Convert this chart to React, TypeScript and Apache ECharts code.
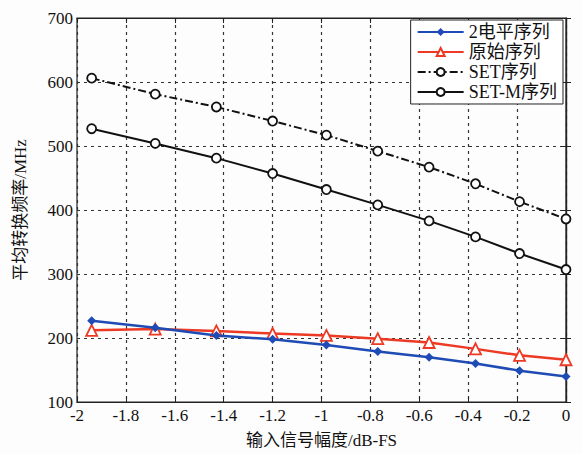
import React, { useEffect, useRef } from "react";
import * as echarts from "echarts";

const xValues = [-1.94, -1.68, -1.43, -1.2, -0.98, -0.77, -0.56, -0.37, -0.19, 0];
const twoLevel = [227, 216, 204, 198, 189, 179, 170, 160, 149, 140];
const original = [212, 214, 211, 207, 204, 199, 193, 183, 173, 166];
const setSeq = [606, 581, 561, 539, 517, 492, 467, 441, 413, 386];
const setMSeq = [527, 504, 481, 457, 432, 408, 383, 358, 332, 307];
const seriesNames = ["2电平序列", "原始序列", "SET序列", "SET-M序列"];

const pair = (ys: number[]) => xValues.map((x, i) => [x, ys[i]]);

const serif = "Liberation Serif, Noto Sans CJK SC, serif";

export default function App() {
  const ref = useRef<HTMLDivElement>(null);
  useEffect(() => {
    const chart = echarts.init(ref.current!, null, { renderer: "svg" });
    const axisCommon = {
      axisLine: { lineStyle: { color: "#222", width: 1.2 } },
      axisTick: { inside: true, length: 5, lineStyle: { color: "#222" } },
    };
    chart.setOption({
      animation: false,
      backgroundColor: "#fdfdfd",
      grid: { left: 77, right: 16, top: 18, bottom: 52, show: true, borderColor: "#222", borderWidth: 1.2 },
      legend: {
        orient: "vertical",
        right: 19,
        top: 20,
        data: seriesNames,
        backgroundColor: "#ffffff",
        borderColor: "#222",
        borderWidth: 1,
        padding: [3, 6, 3, 6],
        itemGap: 2,
        itemWidth: 46,
        itemHeight: 10,
        textStyle: { fontFamily: serif, fontSize: 18, color: "#111" },
      },
      xAxis: [
        {
          type: "value",
          min: -2,
          max: 0,
          interval: 0.2,
          ...axisCommon,
          axisLabel: { fontFamily: serif, fontSize: 17, color: "#111", margin: 5 },
          splitLine: { show: true, lineStyle: { color: "#333", type: [3, 4], width: 1.2 } },
          name: "输入信号幅度/dB-FS",
          nameLocation: "middle",
          nameGap: 30,
          nameTextStyle: { fontFamily: serif, fontSize: 17, color: "#111" },
        },
        {
          type: "value",
          position: "top",
          min: -2,
          max: 0,
          interval: 0.2,
          ...axisCommon,
          axisLabel: { show: false },
          splitLine: { show: false },
        },
      ],
      yAxis: [
        {
          type: "value",
          min: 100,
          max: 700,
          interval: 100,
          ...axisCommon,
          axisLabel: { fontFamily: serif, fontSize: 17, color: "#111", margin: 4 },
          splitLine: { show: true, lineStyle: { color: "#333", type: [3, 4], width: 1.2 } },
          name: "平均转换频率/MHz",
          nameLocation: "middle",
          nameGap: 48,
          nameRotate: 90,
          nameTextStyle: { fontFamily: serif, fontSize: 17, color: "#111" },
        },
        {
          type: "value",
          position: "right",
          min: 100,
          max: 700,
          interval: 100,
          ...axisCommon,
          axisLabel: { show: false },
          splitLine: { show: false },
        },
      ],
      series: [
        {
          name: seriesNames[0],
          type: "line",
          data: pair(twoLevel),
          symbol: "diamond",
          symbolSize: 9,
          lineStyle: { color: "#1f4bb5", width: 2.5 },
          itemStyle: { color: "#1f4bb5" },
          z: 3,
        },
        {
          name: seriesNames[1],
          type: "line",
          data: pair(original),
          symbol: "triangle",
          symbolSize: 11,
          lineStyle: { color: "#ec3a25", width: 2.5 },
          itemStyle: { color: "#ffffff", borderColor: "#ec3a25", borderWidth: 1.8 },
          z: 2,
        },
        {
          name: seriesNames[2],
          type: "line",
          data: pair(setSeq),
          symbol: "circle",
          symbolSize: 9,
          lineStyle: { color: "#111", width: 2, type: [8, 3, 2, 3] },
          itemStyle: { color: "#ffffff", borderColor: "#111", borderWidth: 1.8 },
        },
        {
          name: seriesNames[3],
          type: "line",
          data: pair(setMSeq),
          symbol: "circle",
          symbolSize: 9,
          lineStyle: { color: "#111", width: 2 },
          itemStyle: { color: "#ffffff", borderColor: "#111", borderWidth: 1.8 },
        },
      ],
    });
    return () => chart.dispose();
  }, []);
  return <div ref={ref} style={{ width: 582, height: 454, position: "absolute", left: 0, top: 0 }} />;
}
